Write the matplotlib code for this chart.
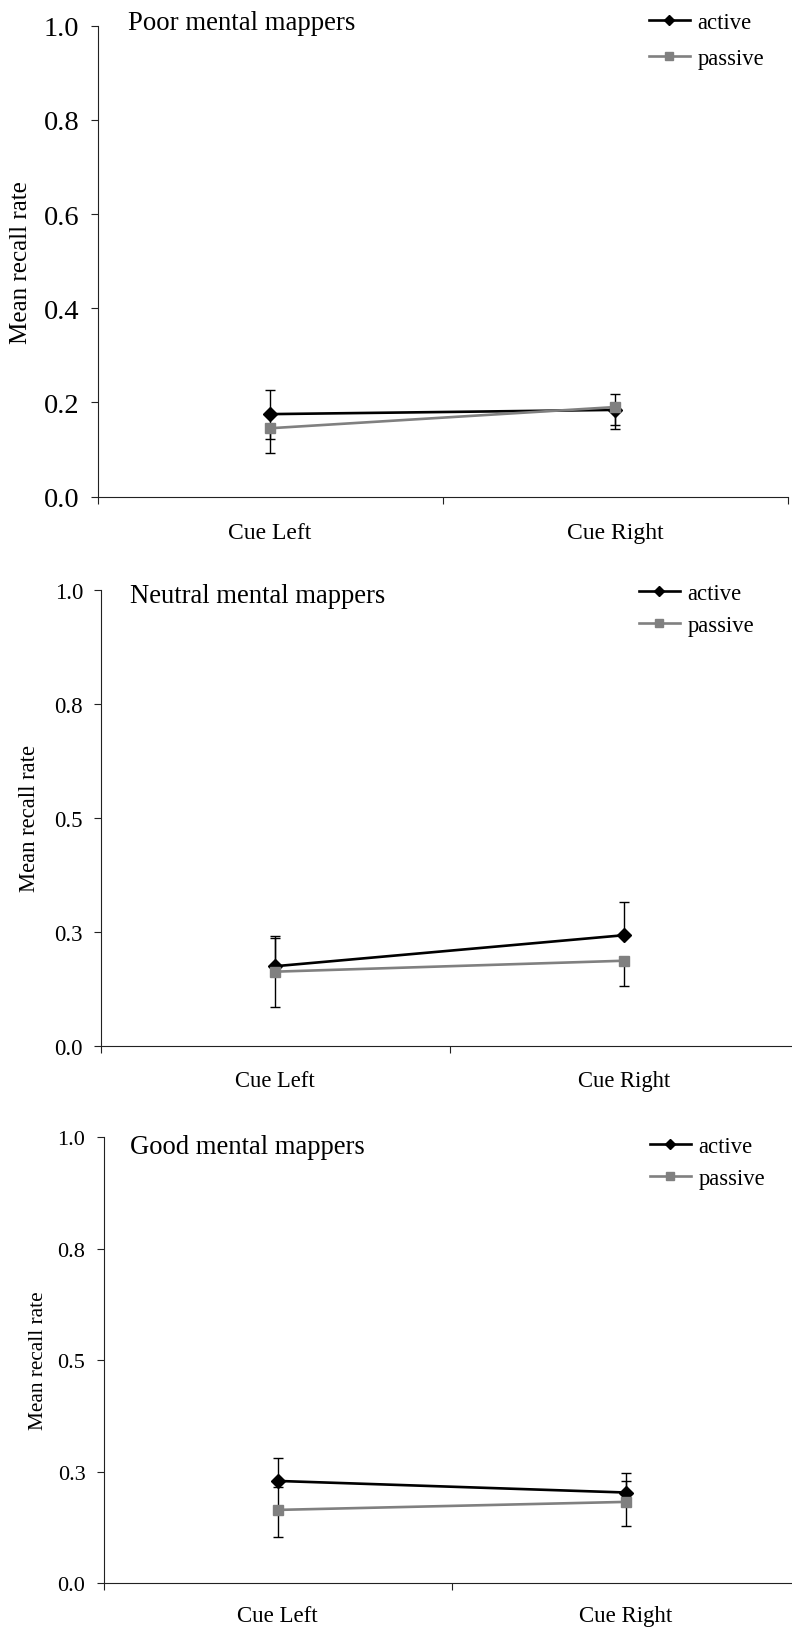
import numpy as np
import matplotlib
matplotlib.use('Agg')
import matplotlib.pyplot as plt

plt.rcParams['font.family'] = ['Liberation Serif', 'DejaVu Serif']

# data
categories = ['Cue Left', 'Cue Right']
series_names = ['active', 'passive']
titles = ['Poor mental mappers', 'Neutral mental mappers', 'Good mental mappers']

poor_active = [0.175, 0.184]
poor_active_lo = [0.053, 0.041]
poor_active_hi = [0.051, 0.034]
poor_passive = [0.145, 0.190]
poor_passive_lo = [0.052, 0.038]
poor_passive_hi = [0.0, 0.0]

neutral_active = [0.175, 0.243]
neutral_active_lo = [0.0, 0.0]
neutral_active_hi = [0.066, 0.072]
neutral_passive = [0.163, 0.187]
neutral_passive_lo = [0.077, 0.055]
neutral_passive_hi = [0.073, 0.0]

good_active = [0.229, 0.203]
good_active_lo = [0.0, 0.0]
good_active_hi = [0.051, 0.043]
good_passive = [0.164, 0.182]
good_passive_lo = [0.060, 0.054]
good_passive_hi = [0.052, 0.047]

yticks_poor = [0.0, 0.2, 0.4, 0.6, 0.8, 1.0]
yticklabels_poor = ['0.0', '0.2', '0.4', '0.6', '0.8', '1.0']
yticks_other = [0.0, 0.25, 0.5, 0.75, 1.0]
yticklabels_other = ['0.0', '0.3', '0.5', '0.8', '1.0']

panels = [
    (poor_active, poor_active_lo, poor_active_hi, poor_passive, poor_passive_lo, poor_passive_hi,
     yticks_poor, yticklabels_poor),
    (neutral_active, neutral_active_lo, neutral_active_hi, neutral_passive, neutral_passive_lo,
     neutral_passive_hi, yticks_other, yticklabels_other),
    (good_active, good_active_lo, good_active_hi, good_passive, good_passive_lo, good_passive_hi,
     yticks_other, yticklabels_other),
]

W, H = 792, 1631
fig = plt.figure(figsize=(W / 100, H / 100), dpi=100)

# layout in pixels: x0, width, top, bottom
rects = [(97.5, 690, 26.8, 497.5), (101, 697.4, 591, 1047), (103.5, 696.6, 1138.3, 1584)]
# font sizes: ticks, ylabel, xlabel, title, legend
fonts = [(20.5, 18, 17, 19.3, 16.3), (16.5, 16.3, 16.3, 19.2, 16.3), (16, 15.3, 16.5, 19.2, 16.3)]
title_pos = [(0.044, 1.008), (0.042, 0.989), (0.038, 0.979)]
ylabel_x = [21, 30, 38.5]
xlabel_pad = [18.5, 17, 15.5]
legend_anchor = [(649, 13), (639, 584), (650, 1137)]
legend_spacing = [0.65, 0.5, 0.5]

for i, (act, act_lo, act_hi, pas, pas_lo, pas_hi, yt, ytl) in enumerate(panels):
    x0, w, top, bot = rects[i]
    ax = fig.add_axes([x0 / W, 1 - bot / H, w / W, (bot - top) / H])
    fs_tick, fs_ylab, fs_xlab, fs_title, fs_leg = fonts[i]
    x = np.arange(len(categories)) + 0.5

    ax.errorbar(x, act, yerr=[act_lo, act_hi], fmt='none', ecolor='black',
                elinewidth=1, capsize=3.3, capthick=1, zorder=2)
    ax.errorbar(x, pas, yerr=[pas_lo, pas_hi], fmt='none', ecolor='black',
                elinewidth=1, capsize=3.3, capthick=1, zorder=2)
    ax.plot(x, act, color='black', lw=1.9, marker='D', ms=7, label=series_names[0], zorder=4)
    ax.plot(x, pas, color='#808080', lw=1.9, marker='s', ms=7.5, label=series_names[1], zorder=5)

    ax.set_xlim(0, 2)
    ax.set_ylim(0, 1)
    for s in ['top', 'right']:
        ax.spines[s].set_visible(False)
    for s in ['left', 'bottom']:
        ax.spines[s].set_linewidth(0.8)
        ax.spines[s].set_color('#222222')

    ax.set_yticks(yt)
    ax.set_yticklabels(ytl, fontsize=fs_tick)
    ax.tick_params(axis='y', length=5, width=0.8, pad=8, color='#222222')

    ax.set_xticks([0, 1, 2])
    ax.set_xticklabels([])
    ax.set_xticks(x, minor=True)
    ax.set_xticklabels(categories, minor=True, fontsize=fs_xlab)
    ax.tick_params(axis='x', which='major', length=5, width=0.8, color='#222222')
    ax.tick_params(axis='x', which='minor', length=0, pad=xlabel_pad[i])

    ax.text(title_pos[i][0], title_pos[i][1], titles[i], transform=ax.transAxes,
            fontsize=fs_title, va='center', ha='left')

    fig.text(ylabel_x[i] / W, 1 - (top + bot) / 2 / H, 'Mean recall rate', rotation=90,
             fontsize=fs_ylab, va='center', ha='center')

    lx, ly = legend_anchor[i]
    ax.legend(loc='upper left', bbox_to_anchor=(lx / W, 1 - ly / H), bbox_transform=fig.transFigure,
              frameon=False, fontsize=fs_leg, handlelength=1.8, handletextpad=0.35,
              borderpad=0, borderaxespad=0, labelspacing=legend_spacing[i], markerscale=0.8)

fig.savefig('out.png', dpi=100)
